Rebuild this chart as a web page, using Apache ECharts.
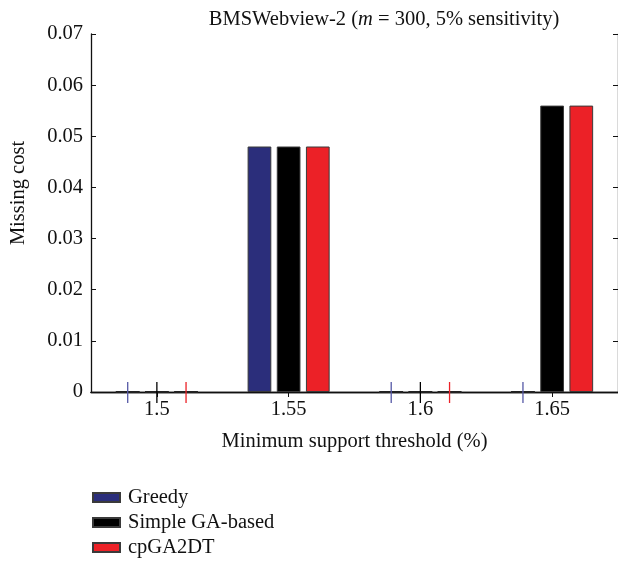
<!DOCTYPE html>
<html>
<head>
<meta charset="utf-8">
<script src="https://cdn.jsdelivr.net/npm/echarts@6/dist/echarts.min.js"></script>
<style>html,body{margin:0;padding:0;background:#fff;}#c{width:618px;height:561px;}</style>
</head>
<body>
<div id="c"></div>
<script>
var categories = ['1.5', '1.55', '1.6', '1.65'];
var seriesNames = ['Greedy', 'Simple GA-based', 'cpGA2DT'];
var greedy = [0, 0.048, 0, 0];
var simpleGA = [0, 0.048, 0, 0.056];
var cpGA2DT = [0, 0.048, 0, 0.056];
var yTicks = [0, 0.01, 0.02, 0.03, 0.04, 0.05, 0.06, 0.07];

var colors = ['#2b2e7b', '#000000', '#ec2127'];
var lineColors = ['#5558a6', '#000000', '#ec2127'];
var FONT = 'Liberation Serif';
var FS = 20.5;
var BAR_W = 0.18;      // fraction of band
var GAP = 0.23;        // fraction of bar width

var all = [greedy, simpleGA, cpGA2DT];
var zeroPts = [];
all.forEach(function (arr, k) {
  arr.forEach(function (v, i) { if (v === 0) zeroPts.push([i, v, k]); });
});

var chart = echarts.init(document.getElementById('c'), null, {renderer: 'canvas'});
var barSeries = all.map(function (arr, k) {
  return {
    name: seriesNames[k], type: 'bar', data: arr,
    barWidth: (BAR_W * 100) + '%', barGap: (GAP * 100) + '%',
    itemStyle: {color: colors[k], borderColor: '#3a3a3a', borderWidth: 1},
    emphasis: {disabled: true}, silent: true
  };
});
barSeries.push({
  type: 'custom', silent: true, z: 5,
  data: zeroPts,
  renderItem: function (params, api) {
    var idx = api.value(0), k = api.value(2);
    var p = api.coord([idx, api.value(1)]);
    var band = api.size([1, 0])[0];
    var bw = band * BAR_W;
    var step = bw * (1 + GAP);
    var cx = p[0] + (k - 1) * step;
    return {
      type: 'group',
      children: [
        {type: 'line', shape: {x1: cx - bw / 2, y1: p[1], x2: cx + bw / 2, y2: p[1]},
         style: {stroke: '#222', lineWidth: 2}},
        {type: 'line', shape: {x1: cx, y1: p[1] - 10, x2: cx, y2: p[1] + 11},
         style: {stroke: lineColors[k], lineWidth: 1.3}}
      ]
    };
  }
});

var axisLine = {show: true, lineStyle: {color: '#111', width: 1.3}};
chart.setOption({
  animation: false,
  backgroundColor: '#fff',
  textStyle: {fontFamily: FONT},
  title: {
    text: 'BMSWebview-2 ({i|m} = 300, 5% sensitivity)',
    left: 379, top: 4, textAlign: 'center',
    textStyle: {fontFamily: FONT, fontSize: FS, fontWeight: 'normal', color: '#111',
      rich: {i: {fontFamily: FONT, fontSize: FS, fontStyle: 'italic', color: '#111'}}}
  },
  legend: {
    data: seriesNames, orient: 'vertical', left: 87, top: 482, height: 80,
    icon: 'rect', itemWidth: 27, itemHeight: 9, itemGap: 4,
    textStyle: {fontFamily: FONT, fontSize: FS, color: '#111', padding: [0, 0, 0, 3]}
  },
  grid: {left: 88, top: 34, right: 0, bottom: 169, containLabel: false},
  xAxis: [{
    type: 'category', data: categories, position: 'bottom',
    name: 'Minimum support threshold (%)', nameLocation: 'middle', nameGap: 39,
    nameTextStyle: {fontFamily: FONT, fontSize: FS, color: '#111'},
    axisLine: axisLine,
    axisTick: {show: false},
    axisLabel: {fontFamily: FONT, fontSize: FS, color: '#111', margin: 7},
    splitLine: {show: false}
  }, {
    type: 'category', data: categories, position: 'top',
    axisLine: axisLine,
    axisTick: {show: true, inside: true, alignWithLabel: true, length: 5, lineStyle: {color: '#111'}},
    axisLabel: {show: false}, splitLine: {show: false}
  }],
  yAxis: [{
    type: 'value', min: yTicks[0], max: yTicks[yTicks.length - 1], interval: 0.01,
    name: 'Missing cost', nameLocation: 'middle', nameGap: 62, nameRotate: 90,
    nameTextStyle: {fontFamily: FONT, fontSize: FS, color: '#111', padding: [0, 0, 0, 40]},
    axisLine: axisLine,
    axisTick: {show: true, inside: true, length: 5, lineStyle: {color: '#111'}},
    axisLabel: {fontFamily: FONT, fontSize: FS, color: '#111', margin: 8,
      formatter: function (v) { return String(Math.round(v * 100) / 100); }},
    splitLine: {show: false}
  }, {
    type: 'value', min: yTicks[0], max: yTicks[yTicks.length - 1], interval: 0.01,
    position: 'right',
    axisLine: axisLine,
    axisTick: {show: true, inside: true, length: 5, lineStyle: {color: '#111'}},
    axisLabel: {show: false}, splitLine: {show: false}
  }],
  series: barSeries
});
</script>
</body>
</html>
